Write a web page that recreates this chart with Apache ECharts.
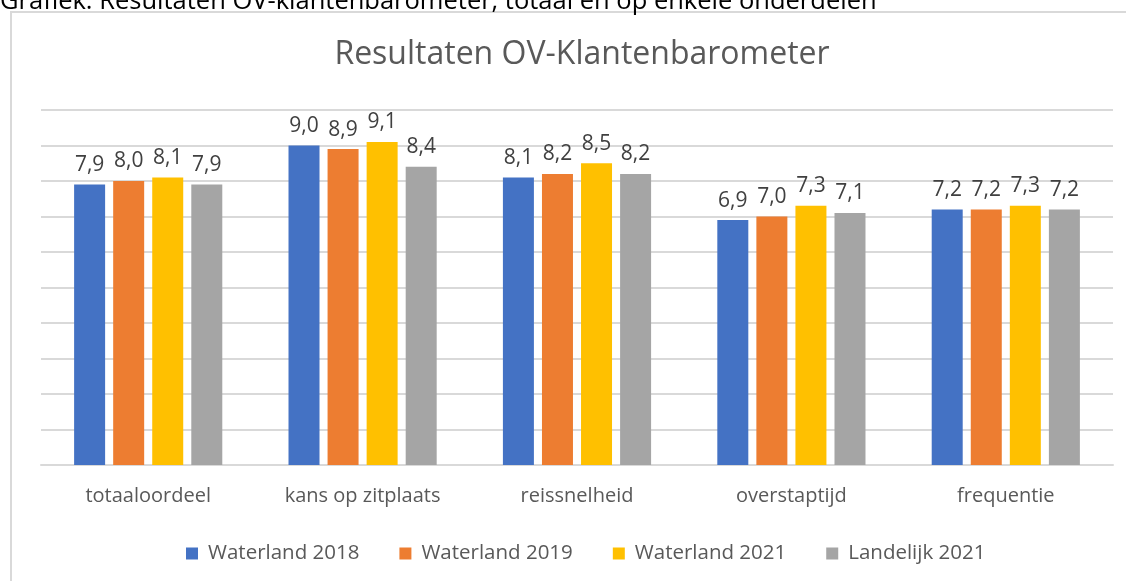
<!DOCTYPE html>
<html>
<head>
	<meta charset="utf-8">
	<title>OV-Klantenbarometer</title>
	<script src="https://cdn.jsdelivr.net/npm/echarts@6/dist/echarts.min.js"></script>
	<style>
		html, body { margin: 0; padding: 0; background: #fff; }
	</style>
</head>
<body>
	<div id="chart" style="width: 1126px;height:581px;"></div>
	<script type="text/javascript">
		var categories = ['totaaloordeel', 'kans op zitplaats', 'reissnelheid', 'overstaptijd', 'frequentie'];
		var seriesNames = ['Waterland 2018', 'Waterland 2019', 'Waterland 2021', 'Landelijk 2021'];
		var waterland2018 = [7.9, 9.0, 8.1, 6.9, 7.2];
		var waterland2019 = [8.0, 8.9, 8.2, 7.0, 7.2];
		var waterland2021 = [8.1, 9.1, 8.5, 7.3, 7.3];
		var landelijk2021 = [7.9, 8.4, 8.2, 7.1, 7.2];
		var colors = ['#4472C4', '#ED7D31', '#FFC000', '#A5A5A5'];

		var font = 'Open Sans';
		var allData = [waterland2018, waterland2019, waterland2021, landelijk2021];

		var series = [];
		for (var i = 0; i < seriesNames.length; i++) {
			series.push({
				name: seriesNames[i],
				type: 'bar',
				data: allData[i],
				barWidth: 31,
				barGap: '26%',
				itemStyle: { color: colors[i] },
				label: {
					show: true,
					position: 'top',
					distance: 9,
					color: '#404040',
					fontFamily: font,
					fontSize: 21,
					formatter: function (p) {
						return p.value.toFixed(1).replace('.', ',');
					}
				}
			});
		}

		var myChart = echarts.init(document.getElementById('chart'));
		var option = {
			backgroundColor: '#fff',
			animation: false,
			color: colors,
			title: {
				text: 'Resultaten OV-Klantenbarometer',
				left: 577,
				textAlign: 'center',
				top: 34,
				textStyle: {
					color: '#595959',
					fontFamily: font,
					fontWeight: 'normal',
					fontSize: 32
				}
			},
			graphic: [
				{
					type: 'rect',
					shape: { x: 11, y: 12, width: 1200, height: 700 },
					style: { fill: 'none', stroke: '#D9D9D9', lineWidth: 2 },
					silent: true
				},
				{
					type: 'text',
					x: 0,
					y: 15,
					style: {
						text: 'Grafiek: Resultaten OV-klantenbarometer, totaal en op enkele onderdelen',
						fill: '#000',
						font: '25.5px "Open Sans"',
						verticalAlign: 'bottom'
					}
				}
			],
			legend: {
				data: seriesNames,
				top: 538,
				left: 181,
				icon: 'rect',
				itemWidth: 12,
				itemHeight: 12,
				itemGap: 40,
				textStyle: {
					color: '#595959',
					fontFamily: font,
					fontSize: 20.5,
					padding: [0, 0, 0, 5]
				}
			},
			grid: {
				left: 41,
				right: 13,
				top: 110,
				bottom: 116,
				containLabel: false
			},
			xAxis: {
				type: 'category',
				data: categories,
				axisLine: { lineStyle: { color: '#D9D9D9', width: 2 } },
				axisTick: { show: false },
				axisLabel: {
					color: '#595959',
					fontFamily: font,
					fontSize: 20,
					margin: 21
				}
			},
			yAxis: {
				type: 'value',
				min: 0,
				max: 10,
				interval: 1,
				axisLine: { show: false },
				axisTick: { show: false },
				axisLabel: { show: false },
				splitLine: { lineStyle: { color: '#D9D9D9', width: 2 } }
			},
			series: series
		};
		myChart.setOption(option);
	</script>
</body>
</html>
